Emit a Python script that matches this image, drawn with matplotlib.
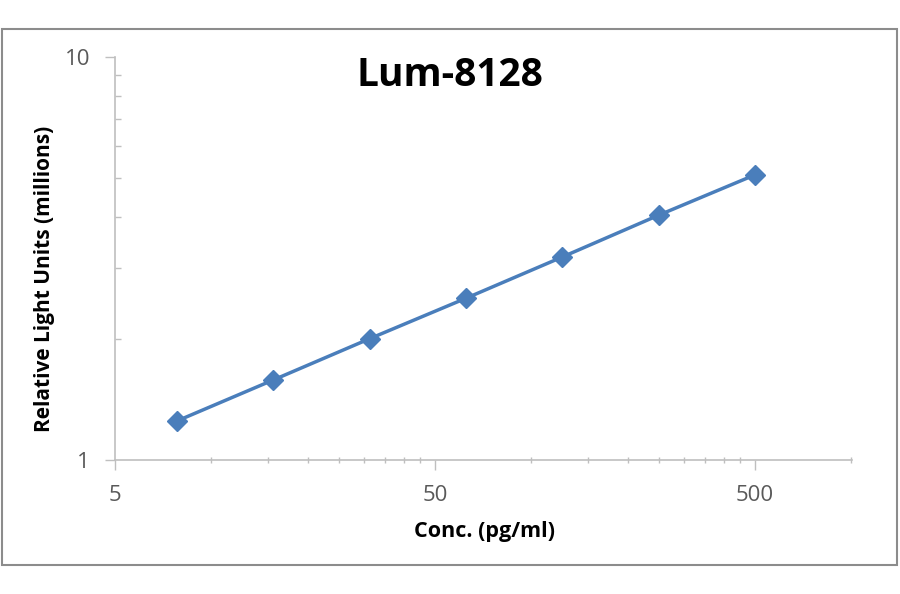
import numpy as np
import matplotlib
matplotlib.use('Agg')
import matplotlib.pyplot as plt
from matplotlib.ticker import LogLocator, FixedLocator, NullFormatter
from matplotlib.patches import Rectangle

# Data
conc = [7.8125, 15.625, 31.25, 62.5, 125, 250, 500]
rlu = [1.25, 1.58, 2.0, 2.52, 3.19, 4.05, 5.10]

x_ticks = [5, 50, 500]
y_ticks = [1, 10]

plt.rcParams['font.family'] = ['Open Sans', 'DejaVu Sans']

AXIS_GRAY = '#BFBFBF'
TEXT_GRAY = '#595959'
BLUE = '#4A7EBB'

fig = plt.figure(figsize=(9, 5.94), dpi=100)

# outer chart frame
fig.patches.append(Rectangle((2 / 900, 1 - 565 / 594), 895 / 900, 536 / 594,
                             transform=fig.transFigure, fill=False,
                             edgecolor='#8C8C8C', linewidth=1.5))

ax = fig.add_axes([115 / 900, 1 - 460 / 594, 737 / 900, 403 / 594])
ax.set_xscale('log')
ax.set_yscale('log')
ax.set_xlim(5, 1005)
ax.set_ylim(1, 10)

ax.plot(conc, rlu, color=BLUE, linewidth=2.5, marker='D', markersize=10,
        markerfacecolor=BLUE, markeredgecolor=BLUE)

for s in ['top', 'right']:
    ax.spines[s].set_visible(False)
for s in ['left', 'bottom']:
    ax.spines[s].set_color(AXIS_GRAY)
    ax.spines[s].set_linewidth(1.2)

ax.xaxis.set_major_locator(FixedLocator(x_ticks))
ax.set_xticklabels([str(v) for v in x_ticks])
minor_x = [5 * k * 10 ** n for n in range(3) for k in range(2, 10)]
ax.xaxis.set_minor_locator(FixedLocator([v for v in minor_x if v < 1005]))
ax.xaxis.set_minor_formatter(NullFormatter())

ax.yaxis.set_major_locator(FixedLocator(y_ticks))
ax.set_yticklabels([str(v) for v in y_ticks])
ax.yaxis.set_minor_locator(LogLocator(base=10, subs=np.arange(2, 10)))
ax.yaxis.set_minor_formatter(NullFormatter())

ax.tick_params(axis='x', which='major', direction='out', length=7, width=1,
               color=AXIS_GRAY, labelsize=16, labelcolor=TEXT_GRAY, pad=11)
ax.tick_params(axis='x', which='minor', direction='inout', length=5, width=1,
               color=AXIS_GRAY)
ax.tick_params(axis='y', which='major', direction='out', length=7, width=1,
               color=AXIS_GRAY, labelsize=16, labelcolor=TEXT_GRAY, pad=11)
ax.tick_params(axis='y', which='minor', direction='in', length=4, width=1,
               color=AXIS_GRAY)

fig.text(450 / 900, 1 - 75 / 594, 'Lum-8128', ha='center', va='center',
         fontsize=28, fontweight='bold', color='black')
fig.text(45 / 900, 1 - 279 / 594, 'Relative Light Units (millions)',
         ha='center', va='center', rotation=90, fontsize=15,
         fontweight='bold', color='black')
fig.text(485 / 900, 1 - 531 / 594, 'Conc. (pg/ml)', ha='center', va='center',
         fontsize=15.5, fontweight='bold', color='black')

fig.savefig('out.png', dpi=100, facecolor='white')
